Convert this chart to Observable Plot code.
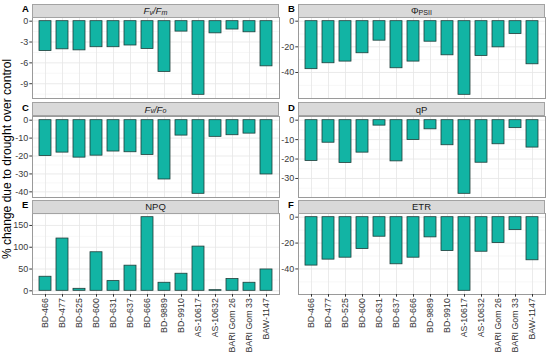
<!DOCTYPE html>
<html><head><meta charset="utf-8">
<script src="https://cdn.jsdelivr.net/npm/d3@7"></script>
<script src="https://cdn.jsdelivr.net/npm/@observablehq/plot@0.6"></script>
<style>
body{margin:0;background:#fff;font-family:"Liberation Sans",Arial,sans-serif;}
#chart{position:relative;width:550px;height:353px;overflow:hidden;background:#fff;}
.strip{position:absolute;background:#d9d9d9;border:1px solid #a3a3a3;box-sizing:border-box;display:flex;align-items:center;justify-content:center;font-size:9.5px;color:#1a1a1a;}
.strip sub{font-size:75%;line-height:0;position:relative;top:0.25em;vertical-align:baseline;}
.tag{position:absolute;font-weight:bold;font-size:9.5px;color:#000;line-height:10px;}
.ytitle{position:absolute;width:240px;text-align:center;font-size:12px;color:#000;transform:rotate(-90deg);transform-origin:center center;line-height:14px;}
#chart svg{position:absolute;overflow:visible;}
</style></head><body><div id="chart"></div>
<script>
// ---- data ----
const cultivars = ["BD-466","BD-477","BD-525","BD-600","BD-631","BD-637","BD-666","BD-9889","BD-9910","AS-10617","AS-10632","BARI Gom 26","BARI Gom 33","BAW-1147"];
const fvFm    = [-4.3,-4.05,-4.2,-3.75,-3.75,-3.5,-4.0,-7.3,-1.5,-10.6,-1.75,-1.2,-1.6,-6.5];
const phiPSII = [-37.4,-32.8,-31.5,-25.0,-15.2,-36.7,-31.5,-16.0,-26.6,-57.4,-27.1,-20.4,-10.0,-33.6];
const fvFo    = [-20.0,-18.1,-20.9,-19.8,-17.5,-17.9,-19.4,-33.1,-8.6,-41.1,-9.3,-8.4,-7.5,-30.3];
const qP      = [-21.0,-11.6,-22.0,-16.7,-2.8,-21.2,-10.2,-4.7,-12.9,-37.9,-21.9,-12.4,-4.1,-14.1];
const npq     = [32.3,120,4.6,88.5,22.3,57.7,169,18.5,39.2,101.5,1.5,27,18.5,49];
const etr     = [-37.4,-32.8,-31.3,-24.6,-15.1,-36.4,-31.3,-15.6,-26.2,-56.9,-26.7,-20.0,-10.0,-33.3];
const ticksA = [0,-3,-6,-9];
const ticksB = [0,-20,-40];
const ticksC = [0,-10,-20,-30,-40];
const ticksD = [0,-10,-20,-30];
const ticksE = [0,50,100,150];
const ticksF = [0,-20,-40];
const panelTags = ["A","B","C","D","E","F"];
const yTitle = "% change due to drought over control";

const panels = [
  {tag:"A", title:'<i>F</i><sub><i>v</i></sub><i>/F</i><sub><i>m</i></sub>', values:fvFm, ticks:ticksA, col:0, row:0},
  {tag:"B", title:'Φ<sub>PSII</sub>', values:phiPSII, ticks:ticksB, col:1, row:0},
  {tag:"C", title:'<i>F</i><sub><i>v</i></sub><i>/F</i><sub><i>o</i></sub>', values:fvFo, ticks:ticksC, col:0, row:1},
  {tag:"D", title:'qP', values:qP, ticks:ticksD, col:1, row:1},
  {tag:"E", title:'NPQ', values:npq, ticks:ticksE, col:0, row:2},
  {tag:"F", title:'ETR', values:etr, ticks:ticksF, col:1, row:2}
];

const chart = document.getElementById("chart");
const colX = [32, 298], rowY = [17.3, 115.6, 213.4];
const W = 247, H = 81, stripH = 13.5;
const fill = "#12b4a4", barStroke = "#1f3d39";
const font = "Liberation Sans, Arial, sans-serif";

for (const p of panels) {
  const x0 = colX[p.col], y0 = rowY[p.row];
  const bottom = p.row === 2;
  const ml = 40, mb = bottom ? 62 : 0;
  const data = cultivars.map((c, i) => ({c, v: p.values[i]}));
  const lo = Math.min(0, d3.min(p.values)), hi = Math.max(0, d3.max(p.values));
  const pad = 0.05 * (hi - lo);
  const s = Math.abs(p.ticks[1] - p.ticks[0]);
  const minors = d3.range(-20, 20).map(i => (i + 0.5) * s).filter(v => v > lo - pad && v < hi + pad);
  const svg = Plot.plot({
    width: ml + W, height: H + mb,
    marginLeft: ml, marginRight: 0, marginTop: 0, marginBottom: mb,
    style: {background: "transparent", fontFamily: font, overflow: "visible"},
    x: {type: "band", domain: cultivars, paddingInner: 0.3, paddingOuter: 0.25, axis: bottom ? undefined : null, label: null},
    y: {domain: [lo - pad, hi + pad], label: null},
    marks: [
      Plot.ruleY(minors, {stroke: "#f2f2f2", strokeWidth: 0.6}),
      Plot.gridY({ticks: p.ticks, stroke: "#e6e6e6", strokeOpacity: 1, strokeWidth: 0.8}),
      Plot.gridX({stroke: "#e6e6e6", strokeOpacity: 1, strokeWidth: 0.8}),
      Plot.barY(data, {x: "c", y: "v", fill, stroke: barStroke, strokeWidth: 0.8}),
      Plot.frame({stroke: "#9a9a9a", strokeWidth: 1}),
      Plot.axisY({ticks: p.ticks, tickSize: 2.7, tickPadding: 1.5, tickFormat: d => String(d), fontSize: 9, color: "#3a3a3a", label: null}),
      bottom ? Plot.axisX({tickRotate: -90, tickSize: 2.7, tickPadding: 1, fontSize: 8.8, color: "#333", label: null}) : null
    ]
  });
  svg.style.left = (x0 - ml) + "px";
  svg.style.top = y0 + "px";
  chart.appendChild(svg);

  const strip = document.createElement("div");
  strip.className = "strip";
  strip.style.left = x0 + "px";
  strip.style.top = (y0 - stripH) + "px";
  strip.style.width = W + "px";
  strip.style.height = (stripH + 0.5) + "px";
  strip.innerHTML = p.title;
  chart.appendChild(strip);

  const tag = document.createElement("div");
  tag.className = "tag";
  tag.textContent = p.tag;
  tag.style.left = (x0 - 10) + "px";
  tag.style.top = (y0 - stripH + 0.5) + "px";
  chart.appendChild(tag);
}

const yt = document.createElement("div");
yt.className = "ytitle";
yt.textContent = yTitle;
yt.style.left = (7 - 120) + "px";
yt.style.top = (159 - 7) + "px";
chart.appendChild(yt);
</script>
</body></html>
